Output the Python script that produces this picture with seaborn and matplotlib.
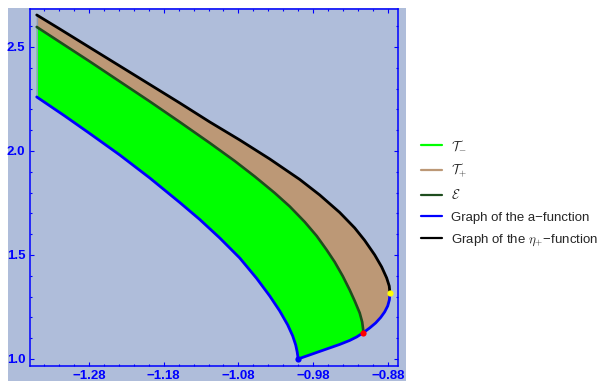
import numpy as np
import pandas as pd
import matplotlib
matplotlib.use("Agg")
import matplotlib.pyplot as plt
import seaborn as sns
from matplotlib.lines import Line2D
from matplotlib.patches import Rectangle
from matplotlib.ticker import FixedLocator

# ---- data ----
# graph of the a-function: left branch down to the cusp, then right branch up to the yellow point
blue_x = [-1.3500, -1.3125, -1.2791, -1.2389, -1.1987, -1.1586, -1.1318, -1.1050, -1.0783, -1.0555,
          -1.0381, -1.0247, -1.0140, -1.0073, -1.0033, -1.0013, -1.0000,
          -0.9846, -0.9712, -0.9578, -0.9444, -0.9310, -0.9216, -0.9127, -0.9042, -0.8962,
          -0.8895, -0.8842, -0.8801, -0.8779, -0.8771]
blue_y = [2.2596, 2.1683, 2.0841, 1.9808, 1.8702, 1.7524, 1.6707, 1.5817, 1.4856, 1.3870,
          1.3029, 1.2308, 1.1635, 1.1106, 1.0673, 1.0337, 1.0000,
          1.0192, 1.0361, 1.0529, 1.0697, 1.0889, 1.1058, 1.1264, 1.1490, 1.1731,
          1.1995, 1.2260, 1.2548, 1.2837, 1.3159]
# graph of the eta_+ function
black_x = [-1.3500, -1.3192, -1.2791, -1.2389, -1.1987, -1.1586, -1.1184, -1.0783, -1.0381, -0.9979,
           -0.9712, -0.9444, -0.9243, -0.9109, -0.8975, -0.8882, -0.8815, -0.8781, -0.8771]
black_y = [2.6538, 2.5865, 2.4976, 2.4087, 2.3197, 2.2308, 2.1394, 2.0529, 1.9615, 1.8630,
           1.7885, 1.7043, 1.6298, 1.5697, 1.5000, 1.4423, 1.3894, 1.3510, 1.3159]
# curve E
green_x = [-1.3500, -1.3192, -1.2791, -1.2389, -1.1987, -1.1586, -1.1184, -1.0850, -1.0582, -1.0314,
           -1.0113, -0.9912, -0.9752, -0.9618, -0.9511, -0.9404, -0.9310, -0.9243, -0.9176,
           -0.9143, -0.9129, -0.9127]
green_y = [2.5962, 2.5240, 2.4303, 2.3341, 2.2380, 2.1394, 2.0385, 1.9519, 1.8774, 1.7981,
           1.7332, 1.6587, 1.5913, 1.5240, 1.4663, 1.3990, 1.3317, 1.2788, 1.2212,
           1.1779, 1.1394, 1.1264]
red_pt = (-0.9127, 1.1264)
yellow_pt = (-0.8771, 1.3159)
vertex_pt = (-1.0000, 1.0000)

x_major = [-1.28, -1.18, -1.08, -0.98, -0.88]
y_major = [1.0, 1.5, 2.0, 2.5]
x_tick_labels = ["\u22121.28", "\u22121.18", "\u22121.08", "\u22120.98", "\u22120.88"]
y_tick_labels = ["1.0", "1.5", "2.0", "2.5"]
legend_labels = [r"$\mathcal{T}_{-}$", r"$\mathcal{T}_{+}$", r"$\mathcal{E}$",
                 "Graph of the a\u2212function", "Graph of the $\\eta_{+}$\u2212function"]

# ---- style ----
sns.set_style("ticks")
plt.rcParams['font.family'] = ['Liberation Sans', 'DejaVu Sans']
plt.rcParams['mathtext.fontset'] = 'cm'

BG = '#AFBDDA'
GREEN = '#00FF00'
TAN = '#BC9876'
DKGREEN = '#1E4D1E'
BLUE = '#0000FF'

W, H = 606, 381
fig = plt.figure(figsize=(W / 100, H / 100), dpi=100)
fig.patch.set_facecolor('white')
bg_rect = Rectangle((8 / W, 0), (406 - 8) / W, (H - 8) / H, transform=fig.transFigure,
                    facecolor=BG, edgecolor='none', zorder=-10)
fig.patches.append(bg_rect)
ax = fig.add_axes([30 / W, (H - 366) / H, (397.5 - 30) / W, (366 - 9.3) / H])
ax.set_zorder(1)
ax.set_facecolor(BG)

bx, by = np.array(blue_x), np.array(blue_y)
kx, ky = np.array(black_x), np.array(black_y)
gx, gy = np.array(green_x), np.array(green_y)
ired = int(np.argmin(np.abs(bx - red_pt[0]) + np.abs(by - red_pt[1])))

# T- region: blue from start to red, green back from red to start
poly_minus_x = np.concatenate([bx[:ired + 1], gx[::-1]])
poly_minus_y = np.concatenate([by[:ired + 1], gy[::-1]])
ax.fill(poly_minus_x, poly_minus_y, color=GREEN, lw=0, zorder=1)
# T+ region: green start->red, blue red->yellow, black back
poly_plus_x = np.concatenate([gx, bx[ired:], kx[::-1]])
poly_plus_y = np.concatenate([gy, by[ired:], ky[::-1]])
ax.fill(poly_plus_x, poly_plus_y, color=TAN, lw=0, zorder=1)
# left boundary
ax.plot([bx[0], kx[0]], [by[0], ky[0]], color='#8A9BB8', lw=0.8, zorder=2)

sns.lineplot(x=gx, y=gy, sort=False, estimator=None, color=DKGREEN, lw=1.9, ax=ax, zorder=3)
sns.lineplot(x=kx, y=ky, sort=False, estimator=None, color='black', lw=2.0, ax=ax, zorder=3)
sns.lineplot(x=bx, y=by, sort=False, estimator=None, color=BLUE, lw=2.0, ax=ax, zorder=4)

ax.scatter([vertex_pt[0]], [vertex_pt[1]], s=20, color=BLUE, zorder=5, lw=0)
ax.scatter([red_pt[0]], [red_pt[1]], s=20, color='red', zorder=5, lw=0)
ax.scatter([yellow_pt[0]], [yellow_pt[1]], s=20, color='yellow', zorder=5, lw=0)

ax.set_xlim(-1.359, -0.867)
ax.set_ylim(0.966, 2.681)
ax.xaxis.set_major_locator(FixedLocator(x_major))
ax.yaxis.set_major_locator(FixedLocator(y_major))
ax.xaxis.set_minor_locator(FixedLocator(np.round(np.arange(-1.36, -0.85, 0.02), 2)))
ax.yaxis.set_minor_locator(FixedLocator(np.round(np.arange(0.9, 2.75, 0.1), 1)))
ax.set_xticklabels(x_tick_labels)
ax.set_yticklabels(y_tick_labels)
ax.tick_params(which='both', direction='in', top=True, right=True, color=BLUE, width=0.8,
               labelcolor=BLUE, labelsize=9.5)
ax.tick_params(which='major', length=3.0)
ax.tick_params(which='minor', length=1.6)
ax.tick_params(axis='x', which='major', pad=3)
ax.tick_params(axis='y', which='major', pad=3.5)
for lab in ax.get_xticklabels() + ax.get_yticklabels():
    lab.set_fontweight('bold')
for sp in ax.spines.values():
    sp.set_color(BLUE)
    sp.set_linewidth(1.1)
ax.set_xlabel('')
ax.set_ylabel('')

handles = [Line2D([], [], color=c, lw=1.6) for c in [GREEN, TAN, DKGREEN, BLUE, 'black']]
fig.legend(handles, legend_labels, loc='upper left', bbox_to_anchor=(421 / W, 1 - 139 / H),
           frameon=False, fontsize=9.5, handlelength=1.6, handletextpad=0.65, labelspacing=0.68,
           borderpad=0, borderaxespad=0)

fig.savefig('out.png', dpi=100)
